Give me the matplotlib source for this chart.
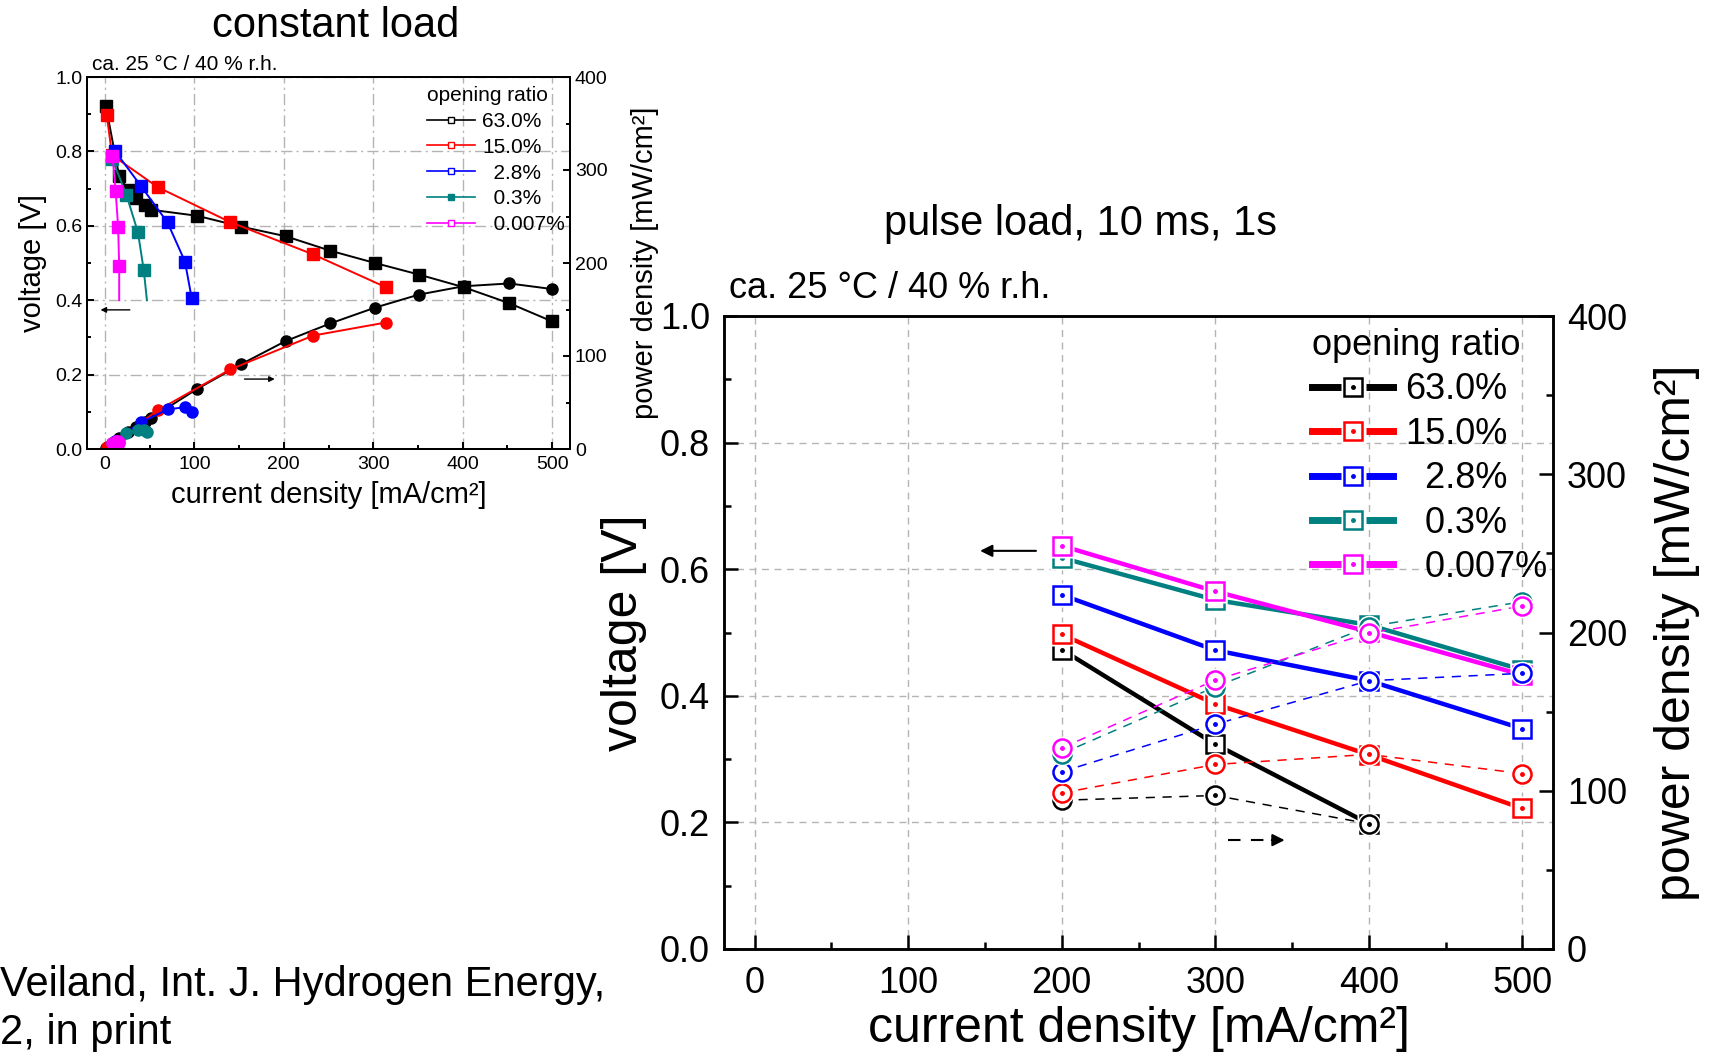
import matplotlib.pyplot as plt
from matplotlib.lines import Line2D
from matplotlib.legend_handler import HandlerTuple
from matplotlib.ticker import MultipleLocator, FormatStrFormatter

plt.rcParams['font.family'] = ['Liberation Sans', 'DejaVu Sans']

W, H = 1713, 1052

labels = ['63.0%', '15.0%', '  2.8%', '  0.3%', '  0.007%']
colors = ['#000000', '#ff0000', '#0000ff', '#008080', '#ff00ff']

# constant load: current density [mA/cm2], voltage [V], power density [mW/cm2]
cl_i_63 = [1, 16, 26, 35, 44.5, 52, 103, 152, 202, 252, 302, 351, 401, 452, 500]
cl_v_63 = [0.923, 0.733, 0.697, 0.675, 0.657, 0.643, 0.627, 0.598, 0.572, 0.533,
           0.500, 0.469, 0.435, 0.392, 0.343]
cl_p_63 = [0.9, 11.7, 18, 23.6, 29, 33.5, 64.5, 91, 116, 135, 152, 166, 175, 178, 172]

cl_i_15 = [2, 8, 59, 140, 233, 314]
cl_v_15 = [0.899, 0.79, 0.704, 0.61, 0.523, 0.435]
cl_p_15 = [1.8, 6.3, 41.5, 85.5, 122, 136]

cl_i_2_8 = [11, 40, 70, 89.5, 97]
cl_v_2_8 = [0.802, 0.708, 0.609, 0.504, 0.406]
cl_p_2_8 = [8.8, 28.5, 42.5, 45, 39.5]

cl_i_0_3 = [8, 24, 37, 43.5, 47]
cl_v_0_3 = [0.78, 0.684, 0.582, 0.48, 0.40]
cl_p_0_3 = [6.2, 17.2, 20.4, 20.6, 18.8]

cl_i_0_007 = [8.5, 12, 14.8, 16, 16]
cl_v_0_007 = [0.788, 0.694, 0.597, 0.491, 0.40]
cl_p_0_007 = [6.7, 8.3, 8.8, 7.9, 6.4]

cl_i = [cl_i_63, cl_i_15, cl_i_2_8, cl_i_0_3, cl_i_0_007]
cl_v = [cl_v_63, cl_v_15, cl_v_2_8, cl_v_0_3, cl_v_0_007]
cl_p = [cl_p_63, cl_p_15, cl_p_2_8, cl_p_0_3, cl_p_0_007]
cl_marked = [None, None, None, slice(0, -1), slice(0, -1)]

# pulse load, 10 ms, 1 s
pl_i_63 = [200, 300, 400]
pl_i = [200, 300, 400, 500]
pl_v_63 = [0.473, 0.3235, 0.198]
pl_p_63 = [94, 97, 79.2]
pl_v_15 = [0.497, 0.387, 0.307, 0.222]
pl_p_15 = [98.6, 116.6, 123, 110.8]
pl_v_2_8 = [0.5595, 0.472, 0.424, 0.348]
pl_p_2_8 = [112, 142, 169.5, 174.2]
pl_v_0_3 = [0.618, 0.5515, 0.512, 0.441]
pl_p_0_3 = [123.5, 165.7, 203.7, 219.5]
pl_v_0_007 = [0.637, 0.565, 0.501, 0.433]
pl_p_0_007 = [127, 170, 199.5, 216.8]

pl_x = [pl_i_63, pl_i, pl_i, pl_i, pl_i]
pl_v = [pl_v_63, pl_v_15, pl_v_2_8, pl_v_0_3, pl_v_0_007]
pl_p = [pl_p_63, pl_p_15, pl_p_2_8, pl_p_0_3, pl_p_0_007]


def box(l, t, r, b):
    return [l / W, 1 - b / H, (r - l) / W, (b - t) / H]


def style_axes(ax, tw, fs, major, minor, pad_x, pad_y, lw, gls):
    ax.set_xlim(-20, 520)
    ax.set_ylim(0, 1.0)
    tw.set_ylim(0, 400)
    ax.xaxis.set_major_locator(MultipleLocator(100))
    ax.xaxis.set_minor_locator(MultipleLocator(50))
    ax.yaxis.set_major_locator(MultipleLocator(0.2))
    ax.yaxis.set_minor_locator(MultipleLocator(0.1))
    ax.yaxis.set_major_formatter(FormatStrFormatter('%.1f'))
    tw.yaxis.set_major_locator(MultipleLocator(100))
    tw.yaxis.set_minor_locator(MultipleLocator(50))
    for a in (ax, tw):
        a.tick_params(which='major', direction='in', length=major, width=lw, labelsize=fs)
        a.tick_params(which='minor', direction='in', length=minor, width=lw)
        for s in a.spines.values():
            s.set_linewidth(lw)
    ax.tick_params(axis='x', which='both', pad=pad_x, top=False)
    ax.tick_params(axis='y', which='both', pad=pad_y, right=False)
    tw.tick_params(axis='y', which='both', pad=pad_y)
    ax.grid(True, which='major', color='#b4b4b4', linestyle=gls, linewidth=1.0)
    ax.set_axisbelow(True)


def origin_marks(ax, x, y, c, marker, **line_kw):
    # Origin-like symbol: white gap round a hollow marker with a dot in the middle
    ax.plot(x, y, color=c, **line_kw)
    ax.plot(x, y, ls='none', marker=marker, ms=17, mfc='white', mec='none')
    ax.plot(x, y, ls='none', marker=marker, ms=13, mfc='white', mec=c, mew=1.8)
    ax.plot(x, y, ls='none', marker='o', ms=2.5, color=c)


fig = plt.figure(figsize=(W / 100, H / 100), dpi=100)

# ---------------- constant load ----------------
ax1 = fig.add_axes(box(87, 77, 570, 449))
tw1 = ax1.twinx()
style_axes(ax1, tw1, 14, 5, 3, 5, 3.5, 1.4, (0, (8, 3, 1.5, 3)))

for x, v, p, c, m in zip(cl_i, cl_v, cl_p, colors, cl_marked):
    ax1.plot(x, v, color=c, lw=1.4, marker='s', ms=8, markevery=m)
    tw1.plot(x, p, color=c, lw=1.4, marker='o', ms=8)

ax1.annotate('', xy=(-8, 0.374), xytext=(31, 0.374),
             arrowprops=dict(arrowstyle='-|>', color='black', lw=1.0, mutation_scale=8))
ax1.annotate('', xy=(193, 0.188), xytext=(153, 0.188),
             arrowprops=dict(arrowstyle='-|>', color='black', lw=1.0, mutation_scale=8))

ax1.set_xlabel('current density [mA/cm²]', fontsize=21, labelpad=6)
ax1.set_ylabel('voltage [V]', fontsize=21, labelpad=6)
tw1.set_ylabel('power density [mW/cm²]', fontsize=21, labelpad=17)

h1 = []
for c, lab in zip(colors, labels):
    h1.append(Line2D([], [], color=c, lw=1.2, marker='s', ms=5, mew=1.0, mec=c,
                     mfc=c if c == '#008080' else 'white'))
leg1 = ax1.legend(h1, labels, title='opening ratio', fontsize=15, title_fontsize=15,
                  loc='upper left', bbox_to_anchor=(427 / W, 1 - 86 / H),
                  bbox_transform=fig.transFigure, frameon=False, borderpad=0,
                  borderaxespad=0, handlelength=2.3, handletextpad=0.35,
                  labelspacing=0.33, alignment='left')

fig.text(336 / W, 1 - 37 / H, 'constant load', fontsize=30, ha='center', va='baseline')
fig.text(92 / W, 1 - 70 / H, 'ca. 25 °C / 40 % r.h.', fontsize=15, ha='left', va='baseline')

# ---------------- pulse load ----------------
ax2 = fig.add_axes(box(724, 316, 1553, 949))
tw2 = ax2.twinx()
style_axes(ax2, tw2, 26, 10, 5, 12, 10, 1.8, (0, (5, 4)))

for x, v, p, c in zip(pl_x, pl_v, pl_p, colors):
    origin_marks(ax2, x, v, c, 's', lw=3.2)
    origin_marks(tw2, x, p, c, 'o', lw=1.1, ls=(0, (6, 5)))

ax2.annotate('', xy=(145, 0.629), xytext=(185, 0.629),
             arrowprops=dict(arrowstyle='-|>', color='black', lw=1.5, mutation_scale=18))
ax2.plot([308, 334], [0.172, 0.172], color='black', lw=1.5, ls=(0, (6, 5)))
ax2.annotate('', xy=(347, 0.172), xytext=(335, 0.172),
             arrowprops=dict(arrowstyle='-|>', color='black', lw=1.5, mutation_scale=18))

ax2.set_xlabel('current density [mA/cm²]', fontsize=36, labelpad=4)
ax2.set_ylabel('voltage [V]', fontsize=36, labelpad=9)
tw2.set_ylabel('power density [mW/cm²]', fontsize=36, labelpad=19)

h2 = []
for c in colors:
    h2.append((Line2D([], [], color=c, lw=5),
               Line2D([], [], ls='none', marker='s', ms=18, mfc='white', mec='none'),
               Line2D([], [], ls='none', marker='s', ms=13, mfc='white', mec=c, mew=1.8),
               Line2D([], [], ls='none', marker='o', ms=2.5, color=c)))
leg2 = ax2.legend(h2, labels, title='opening ratio', fontsize=26, title_fontsize=26,
                  loc='upper left', bbox_to_anchor=(1312 / W, 1 - 328 / H),
                  bbox_transform=fig.transFigure, frameon=False, borderpad=0,
                  borderaxespad=0, handlelength=2.25, handletextpad=0.33,
                  labelspacing=0.26, alignment='left',
                  handler_map={tuple: HandlerTuple(ndivide=1)})

fig.text(1080 / W, 1 - 235 / H, 'pulse load, 10 ms, 1s', fontsize=30, ha='center', va='baseline')
fig.text(729 / W, 1 - 298 / H, 'ca. 25 °C / 40 % r.h.', fontsize=26, ha='left', va='baseline')

# citation fragment at the bottom left
fig.text(0, 1 - 996 / H, 'Veiland, Int. J. Hydrogen Energy,', fontsize=30, ha='left', va='baseline')
fig.text(0, 1 - 1044 / H, '2, in print', fontsize=30, ha='left', va='baseline')

fig.savefig('out.png', dpi=100)
